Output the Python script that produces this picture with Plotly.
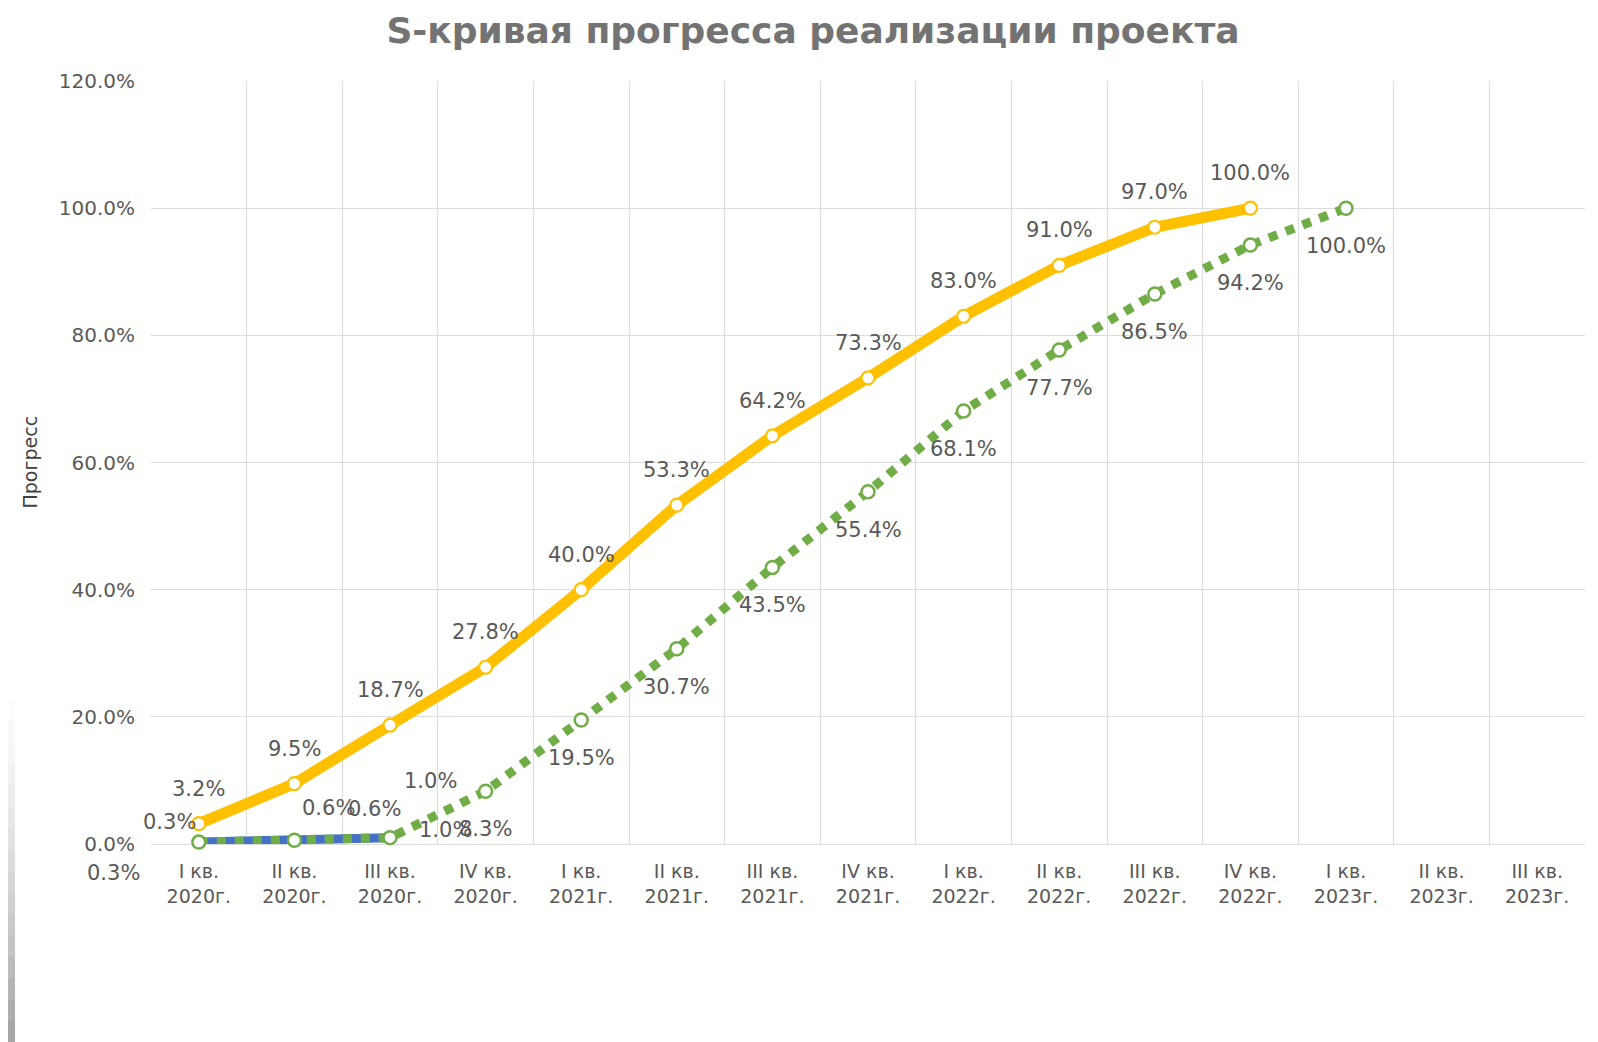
import plotly.graph_objects as go

# ---------------- data ----------------
tick_labels = [
    "I кв.<br>2020г.", "II кв.<br>2020г.", "III кв.<br>2020г.", "IV кв.<br>2020г.",
    "I кв.<br>2021г.", "II кв.<br>2021г.", "III кв.<br>2021г.", "IV кв.<br>2021г.",
    "I кв.<br>2022г.", "II кв.<br>2022г.", "III кв.<br>2022г.", "IV кв.<br>2022г.",
    "I кв.<br>2023г.", "II кв.<br>2023г.", "III кв.<br>2023г.",
]
plan = [3.2, 9.5, 18.7, 27.8, 40.0, 53.3, 64.2, 73.3, 83.0, 91.0, 97.0, 100.0]
forecast = [0.3, 0.6, 1.0, 8.3, 19.5, 30.7, 43.5, 55.4, 68.1, 77.7, 86.5, 94.2, 100.0]
actual = [0.3, 0.6, 1.0]

# label offsets (pixels) for crowded small-value labels
actual_label_shift = [(-29, 20), (34, 32), (40, 57)]
forecast_label_shift_first = [(-85, -31), (80, 31), (55, 8)]

YELLOW = "#FFC000"
GREEN = "#70AD47"
BLUE = "#4472C4"
LABEL_FONT = dict(family="DejaVu Sans", size=21, color="#595959")

W, H = 1598, 1042
ML, MR, MT, MB = 143, 21, 73, 206   # page body adds 8px offset
PW, PH = W - ML - MR, H - MT - MB

x_plan = list(range(len(plan)))
x_fc = list(range(len(forecast)))
x_act = list(range(len(actual)))

fig = go.Figure()

fig.add_trace(go.Scatter(
    x=x_act, y=actual, mode="lines",
    line=dict(color=BLUE, width=9),
    cliponaxis=False, hoverinfo="skip",
))
fig.add_trace(go.Scatter(
    x=x_fc, y=forecast, mode="lines+markers",
    line=dict(color=GREEN, width=9, dash="9px,9px"),
    marker=dict(symbol="circle", size=13, color="white",
                line=dict(color=GREEN, width=2.5)),
    cliponaxis=False,
))
fig.add_trace(go.Scatter(
    x=x_plan, y=plan, mode="lines+markers",
    line=dict(color=YELLOW, width=11),
    marker=dict(symbol="circle", size=13, color="white",
                line=dict(color=YELLOW, width=2.2)),
    cliponaxis=False,
))

annotations = []
for xi, v in zip(x_plan, plan):
    annotations.append(dict(x=xi, y=v, xref="x", yref="y", text=f"{v:.1f}%",
                            showarrow=False, yshift=35, font=LABEL_FONT))
for xi, v in zip(x_fc, forecast):
    if xi < len(forecast_label_shift_first):
        dx, dy = forecast_label_shift_first[xi]
    else:
        dx, dy = 0, -38
    annotations.append(dict(x=xi, y=v, xref="x", yref="y", text=f"{v:.1f}%",
                            showarrow=False, xshift=dx, yshift=dy, font=LABEL_FONT))
for xi, v in zip(x_act, actual):
    dx, dy = actual_label_shift[xi]
    annotations.append(dict(x=xi, y=v, xref="x", yref="y", text=f"{v:.1f}%",
                            showarrow=False, xshift=dx, yshift=dy, font=LABEL_FONT))


def px_to_paper_x(px):
    return (px - 8 - ML) / PW


def py_to_paper_y(py):
    return 1 - (py - 8 - MT) / PH


# y-axis title placed at the reference position
annotations.append(dict(text="Прогресс", x=px_to_paper_x(29), y=0.5,
                        xref="paper", yref="paper", textangle=-90,
                        xanchor="center", yanchor="middle", showarrow=False,
                        font=dict(family="DejaVu Sans", size=19, color="#404040")))

# faint screenshot edge shading at the left border
shapes = []
n_steps = 16
y_start = 700
step = (1042 - y_start) / n_steps
for i in range(n_steps):
    g = int(250 - (250 - 165) * (i / (n_steps - 1)) ** 1.3)
    shapes.append(dict(type="rect", xref="paper", yref="paper", layer="below",
                       x0=px_to_paper_x(8), x1=px_to_paper_x(15),
                       y0=py_to_paper_y(y_start + (i + 1) * step + 0.5),
                       y1=py_to_paper_y(y_start + i * step),
                       fillcolor=f"rgb({g},{g+2},{g+3})", line=dict(width=0)))

fig.update_layout(
    width=W, height=H,
    margin=dict(l=ML, r=MR, t=MT, b=MB),
    paper_bgcolor="white", plot_bgcolor="white",
    showlegend=False,
    annotations=annotations,
    shapes=shapes,
    font=dict(family="DejaVu Sans", color="#595959"),
    title=dict(text="<b>S-кривая прогресса реализации проекта</b>",
               x=(813 - 8) / W, y=1 - (30 - 8) / H, xanchor="center", yanchor="middle",
               xref="container", yref="container",
               font=dict(family="DejaVu Sans", size=36, color="#737373")),
)

fig.update_xaxes(
    range=[-0.5, len(tick_labels) - 0.5],
    tickmode="array", tickvals=list(range(len(tick_labels))), ticktext=tick_labels,
    showgrid=False, zeroline=False, showline=False,
    ticks="", ticklabelstandoff=14,
    tickfont=dict(family="DejaVu Sans", size=19, color="#595959"),
    minor=dict(tickmode="array",
               tickvals=[i + 0.5 for i in range(len(tick_labels) - 1)],
               showgrid=True, gridcolor="#dcdcdc", gridwidth=1.3, ticks=""),
)
fig.update_yaxes(
    range=[0, 120], tickmode="linear", tick0=0, dtick=20,
    tickformat=".1f", ticksuffix="%",
    showgrid=True, gridcolor="#dcdcdc", gridwidth=1.3,
    zeroline=True, zerolinecolor="#dcdcdc", zerolinewidth=1.3,
    showline=False, ticks="", ticklabelstandoff=15,
    tickfont=dict(family="DejaVu Sans", size=20, color="#595959"),
)

fig.write_html("out.html")
